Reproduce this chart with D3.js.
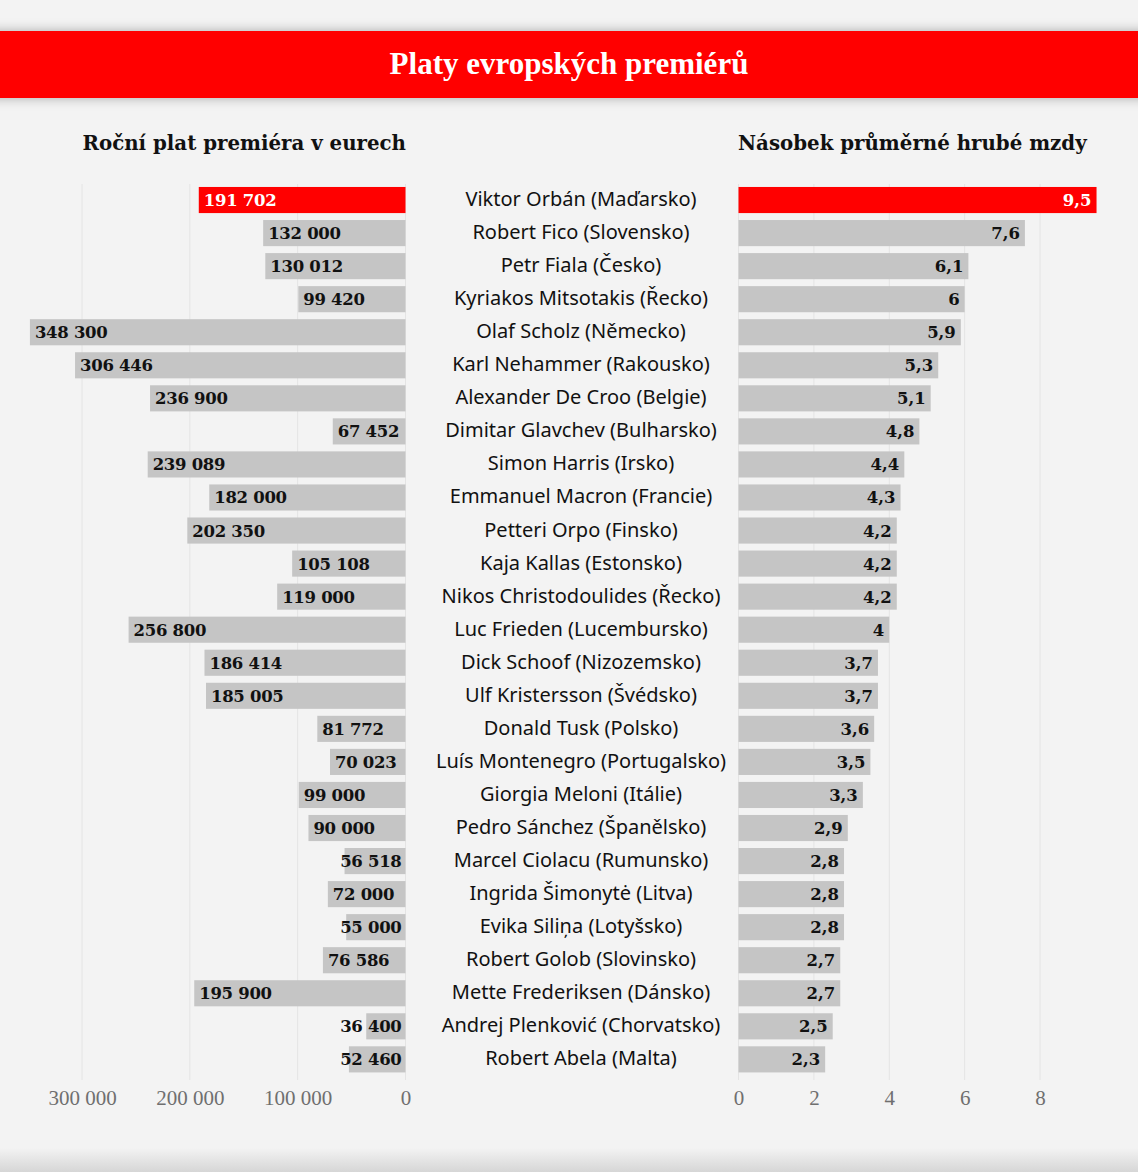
<!DOCTYPE html>
<html>
<head>
<meta charset="utf-8">
<script src="https://cdn.jsdelivr.net/npm/d3@7"></script>
<style>
  html, body { margin: 0; padding: 0; background: #f3f3f3; }
  svg { display: block; }
</style>
</head>
<body>
<svg id="chart" width="1138" height="1172"></svg>
<script>
// --- data
const premiers = [
  'Viktor Orbán (Maďarsko)', 'Robert Fico (Slovensko)', 'Petr Fiala (Česko)',
  'Kyriakos Mitsotakis (Řecko)', 'Olaf Scholz (Německo)', 'Karl Nehammer (Rakousko)',
  'Alexander De Croo (Belgie)', 'Dimitar Glavchev (Bulharsko)', 'Simon Harris (Irsko)',
  'Emmanuel Macron (Francie)', 'Petteri Orpo (Finsko)', 'Kaja Kallas (Estonsko)',
  'Nikos Christodoulides (Řecko)', 'Luc Frieden (Lucembursko)', 'Dick Schoof (Nizozemsko)',
  'Ulf Kristersson (Švédsko)', 'Donald Tusk (Polsko)', 'Luís Montenegro (Portugalsko)',
  'Giorgia Meloni (Itálie)', 'Pedro Sánchez (Španělsko)', 'Marcel Ciolacu (Rumunsko)',
  'Ingrida Šimonytė (Litva)', 'Evika Siliņa (Lotyšsko)', 'Robert Golob (Slovinsko)',
  'Mette Frederiksen (Dánsko)', 'Andrej Plenković (Chorvatsko)', 'Robert Abela (Malta)'
];
const salaries = [
  191702, 132000, 130012, 99420, 348300, 306446, 236900, 67452, 239089,
  182000, 202350, 105108, 119000, 256800, 186414, 185005, 81772, 70023,
  99000, 90000, 56518, 72000, 55000, 76586, 195900, 36400, 52460
];
const multiples = [
  9.5, 7.6, 6.1, 6, 5.9, 5.3, 5.1, 4.8, 4.4, 4.3, 4.2, 4.2, 4.2, 4, 3.7,
  3.7, 3.6, 3.5, 3.3, 2.9, 2.8, 2.8, 2.8, 2.7, 2.7, 2.5, 2.3
];
const salaryTicks = [0, 100000, 200000, 300000];
const multipleTicks = [0, 2, 4, 6, 8];
const highlight = 'Viktor Orbán (Maďarsko)';

const rows = premiers.map((name, i) => ({ name, salary: salaries[i], multiple: multiples[i] }));

const svg = d3.select('#chart');
const serif = '"Liberation Serif", serif';
const dvSerif = '"DejaVu Serif", serif';
const sans = '"Noto Sans", "Open Sans", sans-serif';
const RED = '#ff0000', GREY = '#c5c5c5';

const thin = n => d3.format(',')(n).replace(/,/g, ' ');
const comma = n => String(n).replace('.', ',');

// --- defs: shadow + footer fade
const defs = svg.append('defs');
const sh = defs.append('filter').attr('id', 'shadow').attr('x', '-5%').attr('y', '-40%')
  .attr('width', '110%').attr('height', '180%');
sh.append('feDropShadow').attr('dx', 0).attr('dy', 0).attr('stdDeviation', 6)
  .attr('flood-color', '#000').attr('flood-opacity', 0.3);
const grad = defs.append('linearGradient').attr('id', 'footer').attr('x1', 0).attr('x2', 0).attr('y1', 0).attr('y2', 1);
grad.append('stop').attr('offset', 0).attr('stop-color', '#f3f3f3');
grad.append('stop').attr('offset', 1).attr('stop-color', '#d6d6d6');

svg.append('rect').attr('width', 1138).attr('height', 1172).attr('fill', '#f3f3f3');
svg.append('rect').attr('y', 1148).attr('width', 1138).attr('height', 24).attr('fill', 'url(#footer)');

// --- title band
svg.append('rect').attr('x', -20).attr('y', 31).attr('width', 1178).attr('height', 67)
  .attr('fill', RED).attr('filter', 'url(#shadow)');
svg.append('text').attr('x', 569).attr('y', 74).attr('text-anchor', 'middle')
  .attr('fill', '#fff').style('font-family', serif).style('font-weight', 700)
  .style('font-size', '31px').text('Platy evropských premiérů');

// --- headers
svg.append('text').attr('x', 406).attr('y', 150).attr('text-anchor', 'end')
  .style('font-family', dvSerif).style('font-weight', 700).style('font-size', '19.8px')
  .attr('fill', '#111').text('Roční plat premiéra v eurech');
svg.append('text').attr('x', 738).attr('y', 150).attr('text-anchor', 'start')
  .style('font-family', dvSerif).style('font-weight', 700).style('font-size', '19.8px')
  .attr('fill', '#111').text('Násobek průměrné hrubé mzdy');

// --- scales
const y = d3.scaleBand().domain(premiers).range([183.5, 1075.9]).paddingInner(0.21).paddingOuter(0.105);
const xL = d3.scaleLinear().domain([0, 300000]).range([405.5, 82]);
const xR = d3.scaleLinear().domain([0, 8]).range([738.5, 1040]);
const gridTop = 184, gridBottom = 1080;

// gridlines
svg.append('g').selectAll('line').data(salaryTicks).join('line')
  .attr('x1', d => xL(d)).attr('x2', d => xL(d)).attr('y1', gridTop).attr('y2', gridBottom)
  .attr('stroke', '#e4e4e4').attr('stroke-width', 1);
svg.append('g').selectAll('line').data(multipleTicks).join('line')
  .attr('x1', d => xR(d)).attr('x2', d => xR(d)).attr('y1', gridTop).attr('y2', gridBottom)
  .attr('stroke', '#e4e4e4').attr('stroke-width', 1);

// axes
const axL = svg.append('g').attr('transform', `translate(0,${gridBottom})`)
  .call(d3.axisBottom(xL).tickValues(salaryTicks).tickFormat(thin).tickSize(0).tickPadding(10));
const axR = svg.append('g').attr('transform', `translate(0,${gridBottom})`)
  .call(d3.axisBottom(xR).tickValues(multipleTicks).tickFormat(d => d).tickSize(0).tickPadding(10));
[axL, axR].forEach(ax => {
  ax.select('.domain').remove();
  ax.selectAll('text').attr('fill', '#6f6f6f').style('font-family', serif).style('font-size', '21px');
});

// left bars
const left = svg.append('g');
left.selectAll('rect').data(rows).join('rect')
  .attr('x', d => xL(d.salary)).attr('width', d => xL(0) - xL(d.salary))
  .attr('y', d => y(d.name)).attr('height', y.bandwidth())
  .attr('fill', d => d.name === highlight ? RED : GREY);
left.selectAll('text').data(rows).join('text')
  .attr('y', d => y(d.name) + y.bandwidth() / 2 + 6)
  .style('font-family', dvSerif).style('font-weight', 700).style('font-size', '16.5px')
  .style('letter-spacing', '-0.3px')
  .attr('fill', d => d.name === highlight ? '#fff' : '#111')
  .text(d => thin(d.salary))
  .each(function (d) {
    const w = this.getComputedTextLength();
    const barW = xL(0) - xL(d.salary);
    if (barW > w + 8) d3.select(this).attr('x', xL(d.salary) + 5).attr('text-anchor', 'start');
    else d3.select(this).attr('x', xL(0) - 4).attr('text-anchor', 'end');
  });

// names
svg.append('g').selectAll('text').data(rows).join('text')
  .attr('x', 581).attr('y', d => y(d.name) + y.bandwidth() / 2 + 6)
  .attr('text-anchor', 'middle').attr('fill', '#111')
  .style('font-family', sans).style('font-size', '20px')
  .text(d => d.name);

// right bars
const right = svg.append('g');
right.selectAll('rect').data(rows).join('rect')
  .attr('x', xR(0)).attr('width', d => xR(d.multiple) - xR(0))
  .attr('y', d => y(d.name)).attr('height', y.bandwidth())
  .attr('fill', d => d.name === highlight ? RED : GREY);
right.selectAll('text').data(rows).join('text')
  .attr('x', d => xR(d.multiple) - 5).attr('y', d => y(d.name) + y.bandwidth() / 2 + 6)
  .attr('text-anchor', 'end')
  .style('font-family', dvSerif).style('font-weight', 700).style('font-size', '16.5px')
  .attr('fill', d => d.name === highlight ? '#fff' : '#111')
  .text(d => comma(d.multiple));
</script>
</body>
</html>
